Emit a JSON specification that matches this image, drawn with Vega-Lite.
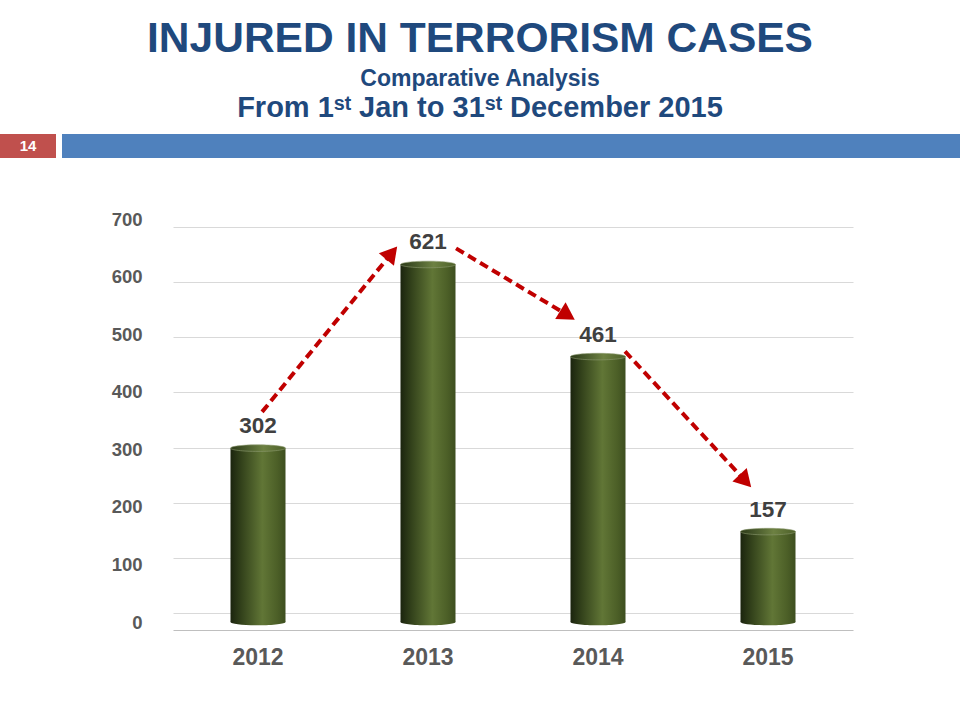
{
  "$schema": "https://vega.github.io/schema/vega-lite/v6.json",
  "background": "white",
  "padding": {"top": 17, "left": 0, "right": 0, "bottom": 0},
  "autosize": {"type": "pad"},
  "config": {
    "view": {"stroke": null},
    "font": "Liberation Sans",
    "axisY": {"labelFont": "Liberation Sans", "labelFontWeight": "bold", "labelColor": "#595959", "labelFontSize": 18.5, "labelPadding": 31, "ticks": false, "tickSize": 0, "domain": false, "grid": false},
    "axisX": {"labelFont": "Liberation Sans", "labelFontWeight": "bold", "labelColor": "#595959", "labelFontSize": 23, "labelPadding": 16, "ticks": false, "tickSize": 0, "grid": false, "labelAngle": 0, "domainColor": "#bfbfbf", "domainWidth": 1.2}
  },
  "title": {
    "text": "INJURED IN TERRORISM CASES",
    "subtitle": "Comparative Analysis",
    "anchor": "middle",
    "frame": "group",
    "dx": 480,
    "font": "Liberation Sans",
    "fontSize": 42.5,
    "fontWeight": "bold",
    "color": "#1f497d",
    "subtitleFont": "Liberation Sans",
    "subtitleFontSize": 23,
    "subtitleFontWeight": "bold",
    "subtitleColor": "#1f497d",
    "subtitlePadding": 8,
    "offset": 3
  },
  "datasets": {
    "injured": [
      {"year": "2012", "injured": 302},
      {"year": "2013", "injured": 621},
      {"year": "2014", "injured": 461},
      {"year": "2015", "injured": 157}
    ],
    "arrows": [
      {"from_idx": 1.024, "from_val": 365, "to_idx": 1.787, "to_val": 641, "heading": 39.4},
      {"from_idx": 2.165, "from_val": 649, "to_idx": 2.821, "to_val": 533, "heading": 122},
      {"from_idx": 3.159, "from_val": 470, "to_idx": 3.867, "to_val": 245, "heading": 136.8}
    ]
  },
  "spacing": 52,
  "vconcat": [
    {
      "title": {
        "text": "From 1ˢᵗ Jan to 31ˢᵗ December 2015",
        "anchor": "middle",
        "frame": "group",
        "dx": 480,
        "font": "Liberation Sans",
        "fontSize": 29,
        "fontWeight": "bold",
        "color": "#1f497d",
        "offset": 11
      },
      "spacing": 6,
      "hconcat": [
        {
          "width": 56,
          "height": 24,
          "view": {"fill": "#c0504d", "stroke": null},
          "data": {"values": [{"page": "14"}]},
          "mark": {"type": "text", "color": "white", "fontSize": 15, "fontWeight": "bold", "baseline": "middle", "align": "center"},
          "encoding": {"text": {"field": "page"}}
        },
        {
          "width": 898,
          "height": 24,
          "view": {"fill": "#4f81bd", "stroke": null},
          "data": {"values": [{"page": ""}]},
          "mark": {"type": "text"},
          "encoding": {"text": {"field": "page"}}
        }
      ]
    },
    {
      "spacing": 0,
      "hconcat": [
        {
          "width": 111,
          "height": 10,
          "data": {"values": [{"s": ""}]},
          "mark": {"type": "text"},
          "encoding": {"text": {"field": "s"}}
        },
        {
          "width": 680,
          "height": 403,
          "resolve": {"scale": {"y": "independent"}},
          "layer": [
            {
              "data": {"name": "injured"},
              "mark": {"type": "point", "opacity": 0},
              "encoding": {
                "y": {
                  "field": "injured",
                  "type": "quantitative",
                  "scale": {"domain": [-16.3, 714.5], "nice": false, "zero": false},
                  "axis": {"orient": "right", "labels": false, "ticks": false, "domain": false, "grid": true, "gridColor": "#d9d9d9", "gridWidth": 1.2, "values": [0, 100, 200, 300, 400, 500, 600, 700], "title": null}
                }
              }
            },
            {
              "resolve": {"scale": {"x": "independent"}},
              "layer": [
                {
                  "data": {"name": "injured"},
                  "encoding": {
                    "x": {"field": "year", "type": "nominal", "scale": {"paddingInner": 0, "paddingOuter": 0}, "axis": {"title": null, "offset": 8}},
                    "y": {"field": "injured", "type": "quantitative", "scale": {"domain": [0, 700], "nice": false}, "axis": {"title": null, "orient": "left", "values": [0, 100, 200, 300, 400, 500, 600, 700]}}
                  },
                  "layer": [
                    {
                      "mark": {"type": "point", "shape": "M-1,0A1,0.12,0,1,1,1,0A1,0.12,0,1,1,-1,0Z", "size": 3025, "filled": true, "opacity": 1, "strokeWidth": 0,
                        "fill": {"gradient": "linear", "x1": 0, "y1": 0, "x2": 1, "y2": 0, "stops": [{"offset": 0, "color": "#1b240e"}, {"offset": 0.2, "color": "#33421b"}, {"offset": 0.58, "color": "#617636"}, {"offset": 0.85, "color": "#4c5f27"}, {"offset": 1, "color": "#3d4e1f"}]}},
                      "encoding": {"y": {"datum": 0}}
                    },
                    {
                      "mark": {"type": "bar", "width": 55,
                        "fill": {"gradient": "linear", "x1": 0, "y1": 0, "x2": 1, "y2": 0, "stops": [{"offset": 0, "color": "#1b240e"}, {"offset": 0.2, "color": "#33421b"}, {"offset": 0.58, "color": "#617636"}, {"offset": 0.85, "color": "#4c5f27"}, {"offset": 1, "color": "#3d4e1f"}]}}
                    },
                    {
                      "mark": {"type": "point", "shape": "M-1,0A1,0.12,0,1,1,1,0A1,0.12,0,1,1,-1,0Z", "size": 3025, "filled": true, "opacity": 1, "stroke": "#8d9a70", "strokeWidth": 0.6,
                        "fill": {"gradient": "linear", "x1": 0, "y1": 0, "x2": 1, "y2": 0, "stops": [{"offset": 0, "color": "#2c3a17"}, {"offset": 0.25, "color": "#45562a"}, {"offset": 0.6, "color": "#6d8142"}, {"offset": 1, "color": "#4d6029"}]}}
                    },
                    {
                      "mark": {"type": "text", "dy": -15, "baseline": "alphabetic", "fontSize": 22.5, "fontWeight": "bold", "color": "#404040", "font": "Liberation Sans"},
                      "encoding": {"text": {"field": "injured", "type": "quantitative"}}
                    }
                  ]
                },
                {
                  "data": {"name": "arrows"},
                  "encoding": {
                    "x": {"field": "from_idx", "type": "quantitative", "scale": {"domain": [0.5, 4.5], "nice": false, "zero": false}, "axis": null},
                    "y": {"field": "from_val", "type": "quantitative", "scale": {"domain": [0, 700], "nice": false}, "axis": {"title": null, "orient": "left", "values": [0, 100, 200, 300, 400, 500, 600, 700]}}
                  },
                  "layer": [
                    {
                      "mark": {"type": "rule", "color": "#c00000", "strokeWidth": 4, "strokeDash": [9, 5]},
                      "encoding": {"x2": {"field": "to_idx"}, "y2": {"field": "to_val"}}
                    },
                    {
                      "mark": {"type": "point", "shape": "triangle-up", "size": 384, "filled": true, "color": "#c00000", "opacity": 1},
                      "encoding": {
                        "x": {"field": "to_idx", "type": "quantitative"},
                        "y": {"field": "to_val", "type": "quantitative"},
                        "angle": {"field": "heading", "type": "quantitative", "scale": null}
                      }
                    }
                  ]
                }
              ]
            }
          ]
        }
      ]
    }
  ]
}
